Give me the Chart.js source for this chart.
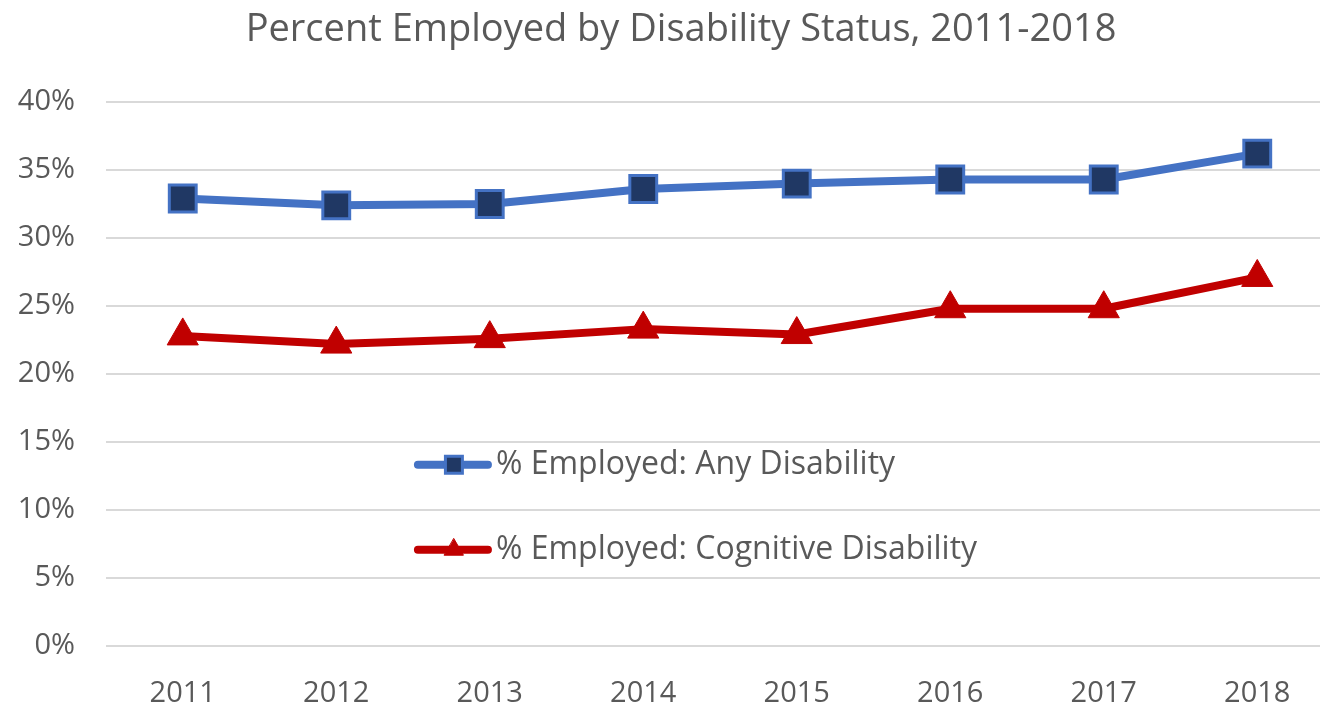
<!DOCTYPE html>
<html>
<head>
<meta charset="utf-8">
<script src="https://cdn.jsdelivr.net/npm/chart.js@4"></script>
<style>
  html, body { margin: 0; padding: 0; background: #fff; overflow: hidden; }
  canvas { display: block; }
</style>
</head>
<body>
<canvas id="employment-chart" width="1336" height="707"></canvas>
<script>
  var years = ['2011', '2012', '2013', '2014', '2015', '2016', '2017', '2018'];
  var anyDisability = [0.329, 0.324, 0.325, 0.336, 0.340, 0.343, 0.343, 0.362];
  var cognitiveDisability = [0.228, 0.222, 0.226, 0.233, 0.229, 0.248, 0.248, 0.271];
  var yTicks = [0, 0.05, 0.10, 0.15, 0.20, 0.25, 0.30, 0.35, 0.40];

  var textColor = '#595959';
  var fontFamily = '"Open Sans", "Noto Sans", sans-serif';

  // legend drawn inside the plot area, like the Excel original
  var insideLegend = {
    id: 'insideLegend',
    afterDatasetsDraw: function (chart) {
      var ctx = chart.ctx;
      var area = chart.chartArea;
      var rows = [0.667, 0.823];
      var x0 = area.left + 0.254 * (area.right - area.left);
      ctx.save();
      chart.data.datasets.forEach(function (ds, i) {
        var y = area.top + rows[i] * (area.bottom - area.top);
        ctx.strokeStyle = ds.borderColor;
        ctx.lineWidth = 8;
        ctx.lineCap = 'round';
        ctx.beginPath();
        ctx.moveTo(x0, y);
        ctx.lineTo(x0 + 70, y);
        ctx.stroke();
        ctx.fillStyle = ds.pointBackgroundColor;
        ctx.strokeStyle = ds.pointBorderColor;
        ctx.lineWidth = ds.pointBorderWidth;
        Chart.helpers.drawPoint(ctx, { pointStyle: ds.pointStyle, radius: ds.legendRadius, borderWidth: ds.pointBorderWidth }, x0 + 36, y);
        ctx.fillStyle = textColor;
        ctx.font = '32px ' + fontFamily;
        ctx.textAlign = 'left';
        ctx.textBaseline = 'middle';
        ctx.fillText(ds.label, x0 + 78, y);
      });
      ctx.restore();
    }
  };

  // title centred a little right of the canvas middle, as in the source
  var chartTitle = {
    id: 'chartTitle',
    afterDraw: function (chart) {
      var ctx = chart.ctx;
      ctx.save();
      ctx.fillStyle = textColor;
      ctx.font = '38px ' + fontFamily;
      ctx.textAlign = 'center';
      ctx.textBaseline = 'middle';
      ctx.fillText('Percent Employed by Disability Status, 2011-2018', 681, 30);
      ctx.restore();
    }
  };

  var ctx = document.getElementById('employment-chart').getContext('2d');
  var employmentChart = new Chart(ctx, {
    type: 'line',
    data: {
      labels: years,
      datasets: [{
        label: '% Employed: Any Disability',
        data: anyDisability,
        borderColor: '#4472C4',
        borderWidth: 8,
        borderJoinStyle: 'round',
        pointStyle: 'rect',
        pointRadius: 19,
        legendRadius: 12,
        pointBackgroundColor: '#203864',
        pointBorderColor: '#4472C4',
        pointBorderWidth: 3
      }, {
        label: '% Employed: Cognitive Disability',
        data: cognitiveDisability,
        borderColor: '#C00000',
        borderWidth: 8,
        borderJoinStyle: 'round',
        pointStyle: 'triangle',
        pointRadius: 18,
        legendRadius: 11,
        pointBackgroundColor: '#C00000',
        pointBorderColor: '#C00000',
        pointBorderWidth: 1
      }]
    },
    options: {
      responsive: false,
      animation: false,
      devicePixelRatio: 1,
      // the plot runs past the visible right edge, the source image is cropped there
      layout: { autoPadding: false, padding: { top: 102, left: 0, right: 2, bottom: 0 } },
      plugins: {
        legend: { display: false },
        tooltip: { enabled: false },
        title: { display: false }
      },
      scales: {
        x: {
          offset: true,
          grid: { display: false },
          border: { display: false },
          ticks: { color: textColor, padding: 22, font: { family: fontFamily, size: 29 } },
          afterFit: function (scale) {
            scale.height = 61;
            scale.paddingLeft = 0;
            scale.paddingRight = 0;
          }
        },
        y: {
          min: 0,
          max: 0.4,
          afterBuildTicks: function (scale) {
            scale.ticks = yTicks.map(function (v) { return { value: v }; });
          },
          grid: { color: '#D9D9D9', lineWidth: 2, drawTicks: false },
          border: { display: false },
          ticks: {
            color: textColor,
            padding: 31,
            font: { family: fontFamily, size: 29 },
            callback: function (v) { return Math.round(v * 100) + '%'; }
          },
          afterFit: function (scale) {
            scale.width = 106;
            scale.paddingTop = 0;
            scale.paddingBottom = 0;
          }
        }
      }
    },
    plugins: [insideLegend, chartTitle]
  });
</script>
</body>
</html>
